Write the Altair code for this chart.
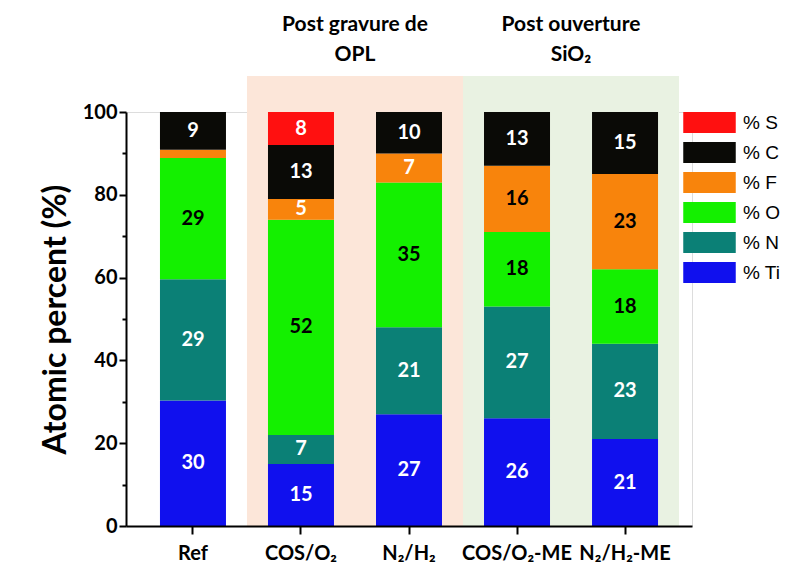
import altair as alt
import pandas as pd

# ---- data ----
categories = ["Ref", "COS/O₂", "N₂/H₂", "COS/O₂-ME", "N₂/H₂-ME"]
elements = ["Ti", "N", "O", "F", "C", "S"]
ti_vals = [30, 15, 27, 26, 21]
n_vals = [29, 7, 21, 27, 23]
o_vals = [29, 52, 35, 18, 18]
f_vals = [2, 5, 7, 16, 23]
c_vals = [9, 13, 10, 13, 15]
s_vals = [0, 8, 0, 0, 0]

group_titles = [["Post gravure de", "OPL"], ["Post ouverture", "SiO₂"]]
group_members = [["COS/O₂", "N₂/H₂"], ["COS/O₂-ME", "N₂/H₂-ME"]]
shade_top = 108.7
y_ticks = [0, 20, 40, 60, 80, 100]
y_minor_ticks = [10, 30, 50, 70, 90]

# ---- styles ----
legend_order = ["% S", "% C", "% F", "% O", "% N", "% Ti"]
legend_colors = ["#FF1010", "#0A0A06", "#F8840C", "#14F000", "#0B8076", "#1010EE"]
shade_colors = ["#FCE6D9", "#E9F2E2"]
FONT = "Lato"

series = {"Ti": ti_vals, "N": n_vals, "O": o_vals, "F": f_vals, "C": c_vals, "S": s_vals}
rows = []
for i, cat in enumerate(categories):
    for j, el in enumerate(elements):
        rows.append({"cat": cat, "el": el, "leg": "% " + el, "ord": j, "value": series[el][i]})
df = pd.DataFrame(rows)

bg_rows = []
for g, members in enumerate(group_members):
    for cat in members:
        bg_rows.append({"cat": cat, "lo": 0, "hi": shade_top, "fill": shade_colors[g]})
bg_df = pd.DataFrame(bg_rows)

title_df = pd.DataFrame({
    "cat": [m[0] for m in group_members],
    "lines": group_titles,
    "ytop": [shade_top, shade_top],
})

x_scale = alt.Scale(domain=categories, paddingInner=0, paddingOuter=0.12)
y_scale = alt.Scale(domain=[0, 100], nice=False)
x_axis = alt.Axis(title=None, labelAngle=0, labelFont=FONT, labelFontWeight="bold",
                  labelFontSize=20, labelColor="black", labelPadding=9,
                  tickSize=8, tickWidth=2, tickColor="black",
                  domainWidth=2, domainColor="black", grid=False)
y_axis = alt.Axis(title="Atomic percent (%)", orient="left", values=y_ticks, labelFont=FONT,
                  labelFontWeight="bold", labelFontSize=20, labelColor="black",
                  labelPadding=2, tickSize=7, tickWidth=2, tickColor="black",
                  domainWidth=2, domainColor="black", grid=False,
                  titleFont=FONT, titleFontSize=32, titleFontWeight="bold",
                  titleColor="black", titlePadding=10)
y_minor_axis = alt.Axis(title=None, orient="left", values=y_minor_ticks, labels=False,
                        domain=False, grid=False, tickSize=4, tickWidth=2,
                        tickColor="black")

X = alt.X("cat:N", sort=categories, scale=x_scale, axis=x_axis, title=None)

bg = alt.Chart(bg_df).mark_rect().encode(
    x=X,
    y=alt.Y("lo:Q", scale=y_scale, axis=y_minor_axis),
    y2="hi:Q",
    fill=alt.Fill("fill:N", scale=None),
)

base = alt.Chart(df).transform_joinaggregate(
    total="sum(value)", groupby=["cat"]
).transform_calculate(
    pct="datum.value / datum.total * 100"
).transform_stack(
    stack="pct", groupby=["cat"], as_=["y0", "y1"], sort=[alt.SortField("ord", order="ascending")]
).transform_calculate(
    mid="(datum.y0 + datum.y1) / 2",
    tcol="datum.el == 'O' || (datum.el == 'F' && datum.value >= 10) ? 'black' : 'white'",
)

bars = base.mark_bar(size=66).encode(
    x=X,
    y=alt.Y("y0:Q", scale=y_scale, axis=y_axis),
    y2="y1:Q",
    color=alt.Color(
        "leg:N",
        scale=alt.Scale(domain=legend_order, range=legend_colors),
        legend=alt.Legend(
            title=None, orient="none", legendX=573, legendY=0,
            symbolType="M-2.5,-1L2.5,-1L2.5,1L-2.5,1Z", symbolSize=441,
            symbolStrokeWidth=0, symbolOpacity=1, labelOffset=23,
            labelFont="Liberation Sans", labelFontSize=19, labelColor="black",
            rowPadding=9, padding=0,
        ),
    ),
)

labels = base.transform_filter("datum.value >= 5").mark_text(
    font=FONT, fontWeight="bold", fontSize=20, baseline="middle", align="center"
).encode(
    x=X,
    y=alt.Y("mid:Q", scale=y_scale, axis=None),
    text="value:Q",
    color=alt.Color("tcol:N", scale=None),
)

titles = alt.Chart(title_df).mark_text(
    font=FONT, fontWeight="bold", fontSize=21, baseline="bottom", align="center",
    dx=54, dy=-41, lineHeight=30, color="black",
).encode(
    x=X,
    y=alt.Y("ytop:Q", scale=y_scale, axis=None),
    text="lines",
)

chart = alt.layer(bg, bars, labels, titles).resolve_axis(y="independent").properties(
    width=566, height=414, padding={"left": 31, "top": 5, "right": 0, "bottom": 0},
).configure_view(stroke=None).configure(background="white")

chart.save("out.html", embed_options={"renderer": "svg", "actions": False})
